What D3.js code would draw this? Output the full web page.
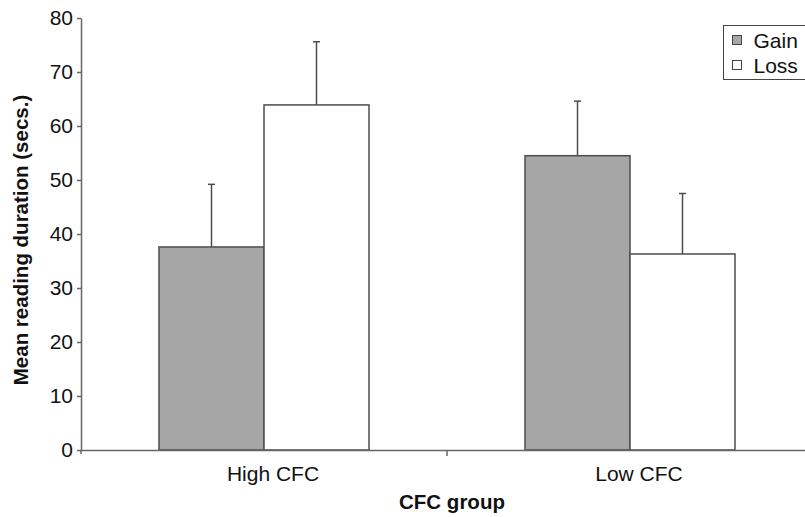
<!DOCTYPE html>
<html lang="en">
<head>
  <meta charset="UTF-8" />
  <title>Mean reading duration by CFC group</title>
  <script src="https://d3js.org/d3.v7.min.js"></script>
  <style>
    body { margin: 0; background: #fff; }
    svg { display: block; font-family: "Liberation Sans", Arial, sans-serif; }
    .axis path, .axis line { stroke: #666; stroke-width: 1.5px; }
    .axis text { fill: #111; }
    .title { font-weight: bold; font-size: 20.5px; fill: #111; }
  </style>
</head>
<body>
<svg width="805" height="517"></svg>
<script>
  // data
  const groups = ["High CFC", "Low CFC"];
  const conditions = ["Gain", "Loss"];
  const gainMeans = [37.6, 54.5];
  const gainErrors = [11.6, 10.1];
  const lossMeans = [63.9, 36.3];
  const lossErrors = [11.7, 11.2];
  const yTicks = [0, 10, 20, 30, 40, 50, 60, 70, 80];

  const fills = { Gain: "#a6a6a6", Loss: "#ffffff" };

  const rows = [];
  groups.forEach((g, i) => {
    rows.push({ group: g, cond: "Gain", mean: gainMeans[i], err: gainErrors[i] });
    rows.push({ group: g, cond: "Loss", mean: lossMeans[i], err: lossErrors[i] });
  });

  const svg = d3.select("svg");
  const plotLeft = 81, plotRight = 813, plotTop = 18, plotBottom = 450;

  const x = d3.scaleBand()
    .domain(groups)
    .range([plotLeft, plotRight])
    .paddingInner(0.4262)
    .paddingOuter(0.2131);

  const xInner = d3.scaleBand()
    .domain(conditions)
    .range([0, x.bandwidth()]);

  const y = d3.scaleLinear().domain([0, 80]).range([plotBottom, plotTop]);

  // bars
  svg.append("g").selectAll("rect")
    .data(rows)
    .enter()
    .append("rect")
    .attr("x", d => x(d.group) + xInner(d.cond))
    .attr("y", d => y(d.mean))
    .attr("width", xInner.bandwidth())
    .attr("height", d => y(0) - y(d.mean))
    .attr("fill", d => fills[d.cond])
    .attr("stroke", "#4d4d4d")
    .attr("stroke-width", 1.5);

  // error bars (upper only)
  const err = svg.append("g").attr("stroke", "#4d4d4d").attr("stroke-width", 1.5);
  rows.forEach(d => {
    const cx = x(d.group) + xInner(d.cond) + xInner.bandwidth() / 2;
    err.append("line")
      .attr("x1", cx).attr("x2", cx)
      .attr("y1", y(d.mean)).attr("y2", y(d.mean + d.err));
    err.append("line")
      .attr("x1", cx - 3.5).attr("x2", cx + 3.5)
      .attr("y1", y(d.mean + d.err)).attr("y2", y(d.mean + d.err));
  });

  // y axis
  svg.append("g")
    .attr("class", "axis")
    .attr("transform", `translate(${plotLeft},0)`)
    .call(d3.axisLeft(y).tickValues(yTicks).tickSize(4).tickSizeOuter(0).tickPadding(4))
    .selectAll("text")
    .style("font-size", "21px");

  // x axis: line plus category dividers
  const xa = svg.append("g")
    .attr("class", "axis")
    .attr("transform", `translate(0,${plotBottom})`)
    .call(d3.axisBottom(x).tickSize(0).tickSizeOuter(0));
  xa.select(".domain").attr("d", `M${plotLeft},0.5H${plotRight}`);
  xa.selectAll(".tick text")
    .style("font-size", "21px")
    .attr("dx", 9)
    .attr("y", 16)
    .attr("dy", "0.71em");

  const dividers = [plotLeft, x(groups[0]) + x.bandwidth() + (x.step() - x.bandwidth()) / 2];
  xa.selectAll(".divider")
    .data(dividers)
    .enter()
    .append("line")
    .attr("x1", d => d).attr("x2", d => d)
    .attr("y1", 0).attr("y2", (d, i) => i === 0 ? 4 : 6);

  // axis titles
  svg.append("text")
    .attr("class", "title")
    .attr("transform", "rotate(-90)")
    .attr("x", -(plotTop + plotBottom) / 2 - 6)
    .attr("y", 28)
    .attr("text-anchor", "middle")
    .text("Mean reading duration (secs.)");

  svg.append("text")
    .attr("class", "title")
    .attr("x", 452)
    .attr("y", 509)
    .attr("text-anchor", "middle")
    .text("CFC group");

  // legend
  const legend = svg.append("g").attr("transform", "translate(723.5,25.5)");
  legend.append("rect")
    .attr("x", 0).attr("y", 0)
    .attr("width", 100).attr("height", 54)
    .attr("fill", "#fff")
    .attr("stroke", "#444")
    .attr("stroke-width", 1);

  conditions.forEach((c, i) => {
    legend.append("rect")
      .attr("x", 9).attr("y", 10 + i * 25)
      .attr("width", 9).attr("height", 9)
      .attr("fill", fills[c])
      .attr("stroke", "#444")
      .attr("stroke-width", 1);
    legend.append("text")
      .attr("x", 30)
      .attr("y", 22.5 + i * 25)
      .style("font-size", "21px")
      .attr("fill", "#111")
      .text(c);
  });
</script>
</body>
</html>
